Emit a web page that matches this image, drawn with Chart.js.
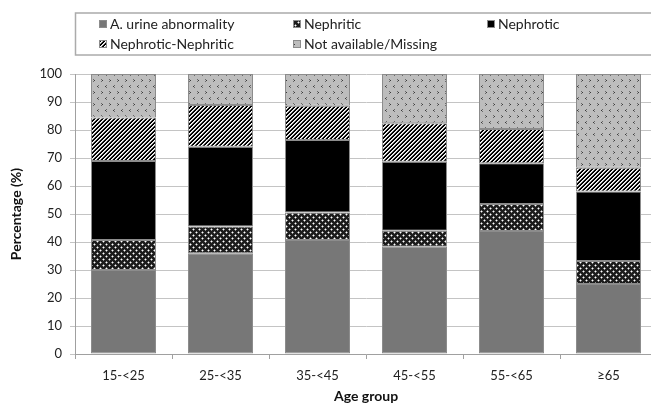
<!DOCTYPE html>
<html>
<head>
<meta charset="utf-8">
<script src="https://cdn.jsdelivr.net/npm/chart.js@4"></script>
<style>
  html, body { margin: 0; padding: 0; background: #fff; overflow: hidden; }
  #wrap { width: 651px; height: 403px; overflow: hidden; }
</style>
</head>
<body>
<div id="wrap"><canvas id="c" width="660" height="403"></canvas></div>
<script>
// Age groups and the share (%) of each clinical presentation
const categories = ['15-<25', '25-<35', '35-<45', '45-<55', '55-<65', '\u226565'];
const urineAbnormality = [30.0, 36.0, 40.7, 38.3, 43.9, 25.0];
const nephritic = [10.7, 9.5, 9.8, 5.7, 9.7, 8.2];
const nephrotic = [28.2, 28.5, 25.9, 24.7, 14.5, 24.8];
const nephroticNephritic = [15.6, 14.9, 12.3, 13.7, 12.3, 8.5];
const missing = [15.5, 11.1, 11.3, 17.6, 19.6, 33.5];
const seriesNames = ['A. urine abnormality', 'Nephritic', 'Nephrotic', 'Nephrotic-Nephritic', 'Not available/Missing'];
const yTicks = [0, 10, 20, 30, 40, 50, 60, 70, 80, 90, 100];

const FONT = 'Lato, "Open Sans", sans-serif';
const canvas = document.getElementById('c');
const ctx = canvas.getContext('2d');

// Small repeating tiles used as bar fills
function tile(w, h, bg, pixels) {
  const t = document.createElement('canvas');
  t.width = w; t.height = h;
  const g = t.getContext('2d');
  g.fillStyle = bg;
  g.fillRect(0, 0, w, h);
  pixels.forEach(([x, y, col]) => { g.fillStyle = col; g.fillRect(x, y, 1, 1); });
  return ctx.createPattern(t, 'repeat');
}

// dark checker with white specks
const nephriticFill = (() => {
  const px = [];
  const G = '#8a8a8a', W = '#ffffff';
  px.push([1, 0, G], [0, 1, G], [2, 1, G], [1, 2, G], [1, 1, W]);
  px.push([4, 3, G], [3, 4, G], [5, 4, G], [4, 5, G], [4, 4, W]);
  return tile(6, 6, '#1c1c1c', px);
})();

// diagonal black/white stripes
const stripeFill = (() => {
  const px = [];
  for (let y = 0; y < 4; y++) for (let x = 0; x < 4; x++) {
    const k = (x + y) % 4;
    if (k === 2) px.push([x, y, '#ffffff']);
    else if (k === 3) px.push([x, y, '#bdbdbd']);
  }
  return tile(4, 4, '#000000', px);
})();

// light grey with small dark chevrons
const missingFill = (() => {
  const D = '#3a3a3a', M = '#6a6a6a';
  const px = [
    [2, 1, M], [1, 2, D], [2, 3, M],
    [5, 7, M], [6, 8, D], [5, 9, M]
  ];
  return tile(8, 12, '#bdbdbd', px);
})();

const fills = ['#777777', nephriticFill, '#000000', stripeFill, missingFill];
const values = [urineAbnormality, nephritic, nephrotic, nephroticNephritic, missing];

const datasets = seriesNames.map((name, i) => ({
  label: name,
  data: values[i],
  backgroundColor: fills[i],
  borderColor: '#8c8c8c',
  borderWidth: 1,
  borderSkipped: false,
  barPercentage: 0.67,
  categoryPercentage: 1.0
}));

// Framed three-column legend above the plot
const boxedLegend = {
  id: 'boxedLegend',
  afterDraw(chart) {
    const g = chart.ctx;
    g.save();
    g.strokeStyle = '#ababab';
    g.lineWidth = 1.5;
    g.strokeRect(75.5, 13, 600, 42);
    const cols = [99, 293, 487];
    const rows = [24, 44];
    g.font = '14px ' + FONT;
    g.textBaseline = 'middle';
    g.textAlign = 'left';
    chart.data.datasets.forEach((ds, i) => {
      const x = cols[i % 3];
      const y = rows[Math.floor(i / 3)];
      g.fillStyle = ds.backgroundColor;
      g.fillRect(x, y - 4, 8, 8);
      g.strokeStyle = '#8c8c8c';
      g.lineWidth = 1;
      g.strokeRect(x + 0.5, y - 3.5, 7, 7);
      g.fillStyle = '#222';
      g.fillText(ds.label, x + 11, y + 0.5);
    });
    g.restore();
  }
};

new Chart(ctx, {
  type: 'bar',
  data: { labels: categories, datasets },
  plugins: [boxedLegend],
  options: {
    responsive: false,
    animation: false,
    devicePixelRatio: 1,
    layout: { padding: { top: 74, right: 3, left: 0, bottom: 0 } },
    plugins: { legend: { display: false }, tooltip: { enabled: false } },
    scales: {
      x: {
        stacked: true,
        offset: true,
        grid: { display: true, drawOnChartArea: false, offset: true, tickLength: 5, color: '#a0a0a0' },
        border: { color: '#a0a0a0' },
        ticks: { color: '#222', font: { family: FONT, size: 13 }, padding: 9, maxRotation: 0 },
        title: { display: true, text: 'Age group', color: '#111', font: { family: FONT, size: 14, weight: 'bold', lineHeight: 1 }, padding: 0 },
        afterFit(s) { s.height = 49; }
      },
      y: {
        stacked: true,
        min: 0,
        max: 100,
        afterBuildTicks(s) { s.ticks = yTicks.map(v => ({ value: v })); },
        grid: { color: '#c4c4c4', tickLength: 5, lineWidth: 1 },
        border: { color: '#a0a0a0' },
        ticks: { color: '#222', font: { family: FONT, size: 13 }, padding: 8 },
        title: { display: true, text: 'Percentage (%)', color: '#111', font: { family: FONT, size: 14, weight: 'bold', lineHeight: 1.2 }, padding: { top: 8, bottom: 0 } },
        afterFit(s) { s.width = 75; }
      }
    }
  }
});
</script>
</body>
</html>
